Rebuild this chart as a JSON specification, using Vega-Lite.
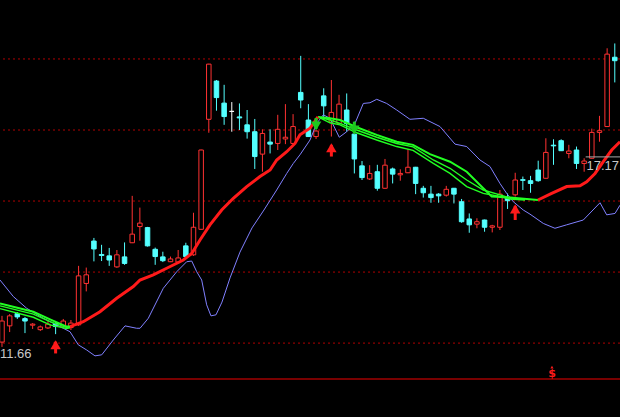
{
"$schema": "https://vega.github.io/schema/vega-lite/v6.json",
"width": 620, "height": 417,
"autosize": "none",
"padding": 0,
"background": "#000000",
"config": {"view": {"stroke": null}, "scale": {"continuousPadding": 0}},
"datasets": {
"candles": [
{"i":0,"o":11.80,"h":12.56,"l":11.66,"c":12.41},
{"i":1,"o":12.27,"h":12.61,"l":12.09,"c":12.56},
{"i":2,"o":12.63,"h":12.67,"l":12.47,"c":12.53},
{"i":3,"o":12.48,"h":12.53,"l":12.06,"c":12.41},
{"i":4,"o":12.29,"h":12.35,"l":12.18,"c":12.32},
{"i":5,"o":12.16,"h":12.28,"l":12.12,"c":12.24},
{"i":6,"o":12.21,"h":12.41,"l":12.18,"c":12.32},
{"i":7,"o":12.34,"h":12.38,"l":12.03,"c":12.25},
{"i":8,"o":12.24,"h":12.47,"l":12.21,"c":12.41},
{"i":9,"o":12.22,"h":12.44,"l":12.15,"c":12.35},
{"i":10,"o":12.30,"h":14.01,"l":12.27,"c":13.72},
{"i":11,"o":13.50,"h":13.96,"l":13.27,"c":13.75},
{"i":12,"o":14.73,"h":14.82,"l":14.14,"c":14.50},
{"i":13,"o":14.34,"h":14.62,"l":14.15,"c":14.31},
{"i":14,"o":14.30,"h":14.53,"l":14.01,"c":14.18},
{"i":15,"o":13.98,"h":14.47,"l":13.95,"c":14.33},
{"i":16,"o":14.27,"h":14.69,"l":14.04,"c":14.08},
{"i":17,"o":14.68,"h":16.04,"l":14.67,"c":14.93},
{"i":18,"o":15.15,"h":15.70,"l":14.74,"c":15.25},
{"i":19,"o":15.12,"h":15.14,"l":14.57,"c":14.59},
{"i":20,"o":14.49,"h":14.54,"l":14.04,"c":14.28},
{"i":21,"o":14.27,"h":14.42,"l":14.12,"c":14.16},
{"i":22,"o":14.13,"h":14.28,"l":14.12,"c":14.21},
{"i":23,"o":14.12,"h":14.47,"l":14.09,"c":14.24},
{"i":24,"o":14.59,"h":14.68,"l":14.25,"c":14.28},
{"i":25,"o":14.33,"h":15.55,"l":14.30,"c":15.13},
{"i":26,"o":15.07,"h":17.38,"l":15.06,"c":17.37},
{"i":27,"o":18.26,"h":19.87,"l":17.87,"c":19.86},
{"i":28,"o":19.37,"h":19.40,"l":18.51,"c":18.89},
{"i":29,"o":18.73,"h":19.26,"l":18.10,"c":18.34},
{"i":30,"o":18.49,"h":18.76,"l":17.90,"c":18.49},
{"i":31,"o":18.33,"h":18.72,"l":17.95,"c":18.30},
{"i":32,"o":18.10,"h":18.53,"l":17.70,"c":17.90},
{"i":33,"o":17.90,"h":18.27,"l":16.82,"c":17.18},
{"i":34,"o":17.25,"h":17.97,"l":16.74,"c":17.85},
{"i":35,"o":17.60,"h":17.97,"l":17.27,"c":17.54},
{"i":36,"o":17.56,"h":18.39,"l":17.37,"c":17.97},
{"i":37,"o":17.69,"h":18.70,"l":17.54,"c":17.74},
{"i":38,"o":17.56,"h":18.41,"l":17.54,"c":18.05},
{"i":39,"o":19.04,"h":20.10,"l":18.58,"c":18.82},
{"i":40,"o":18.24,"h":18.70,"l":17.75,"c":17.76},
{"i":41,"o":17.76,"h":17.95,"l":17.69,"c":17.92},
{"i":42,"o":18.94,"h":19.16,"l":18.24,"c":18.65},
{"i":43,"o":18.18,"h":19.40,"l":17.76,"c":18.46},
{"i":44,"o":18.14,"h":18.97,"l":18.12,"c":18.70},
{"i":45,"o":18.53,"h":19.01,"l":17.90,"c":18.14},
{"i":46,"o":17.83,"h":18.19,"l":16.69,"c":17.11},
{"i":47,"o":16.91,"h":17.05,"l":16.50,"c":16.57},
{"i":48,"o":16.53,"h":16.93,"l":16.50,"c":16.69},
{"i":49,"o":16.74,"h":16.94,"l":16.19,"c":16.26},
{"i":50,"o":16.26,"h":17.11,"l":16.24,"c":16.93},
{"i":51,"o":16.82,"h":16.86,"l":16.40,"c":16.67},
{"i":52,"o":16.65,"h":16.81,"l":16.48,"c":16.69},
{"i":53,"o":16.71,"h":17.40,"l":16.70,"c":16.87},
{"i":54,"o":16.87,"h":16.88,"l":16.09,"c":16.40},
{"i":55,"o":16.26,"h":16.33,"l":15.99,"c":16.13},
{"i":56,"o":16.09,"h":16.33,"l":15.84,"c":15.99},
{"i":57,"o":16.09,"h":16.12,"l":15.84,"c":16.04},
{"i":58,"o":16.06,"h":16.33,"l":16.02,"c":16.23},
{"i":59,"o":16.26,"h":16.27,"l":15.82,"c":16.09},
{"i":60,"o":15.87,"h":15.95,"l":15.26,"c":15.29},
{"i":61,"o":15.37,"h":15.53,"l":14.97,"c":15.20},
{"i":62,"o":15.22,"h":15.39,"l":15.10,"c":15.29},
{"i":63,"o":15.34,"h":15.35,"l":15.00,"c":15.13},
{"i":64,"o":15.13,"h":15.20,"l":14.98,"c":15.17},
{"i":65,"o":15.13,"h":16.21,"l":15.05,"c":16.09},
{"i":66,"o":15.97,"h":16.11,"l":15.66,"c":15.90},
{"i":67,"o":16.07,"h":16.71,"l":16.02,"c":16.50},
{"i":68,"o":16.51,"h":16.60,"l":16.21,"c":16.49},
{"i":69,"o":16.48,"h":16.62,"l":16.13,"c":16.40},
{"i":70,"o":16.79,"h":17.06,"l":16.45,"c":16.48},
{"i":71,"o":16.55,"h":17.71,"l":16.54,"c":17.30},
{"i":72,"o":17.51,"h":17.68,"l":16.94,"c":17.49},
{"i":73,"o":17.64,"h":17.68,"l":17.34,"c":17.35},
{"i":74,"o":17.27,"h":17.52,"l":17.13,"c":17.34},
{"i":75,"o":17.37,"h":17.47,"l":16.82,"c":16.98},
{"i":76,"o":16.98,"h":17.13,"l":16.74,"c":17.05},
{"i":77,"o":17.13,"h":17.99,"l":17.12,"c":17.88},
{"i":78,"o":17.88,"h":18.36,"l":17.61,"c":17.93},
{"i":79,"o":18.05,"h":20.32,"l":18.04,"c":20.15},
{"i":80,"o":20.06,"h":20.46,"l":19.33,"c":19.96}
],
"boll": [
{"t":-0.26,"p":13.60},{"t":1.48,"p":13.12},{"t":3.22,"p":12.78},{"t":5.39,"p":12.49},{"t":7.57,"p":12.25},
{"t":8.88,"p":12.10},{"t":9.96,"p":11.72},{"t":11.06,"p":11.57},{"t":12.14,"p":11.40},{"t":13.02,"p":11.43},
{"t":14.53,"p":11.86},{"t":16.06,"p":12.27},{"t":17.58,"p":12.20},{"t":18.02,"p":12.20},{"t":19.10,"p":12.49},
{"t":21.06,"p":13.36},{"t":22.81,"p":13.84},{"t":24.11,"p":14.13},{"t":24.77,"p":14.15},{"t":25.42,"p":13.84},
{"t":26.07,"p":13.60},{"t":26.72,"p":12.88},{"t":27.28,"p":12.56},{"t":27.94,"p":12.59},{"t":28.72,"p":12.96},
{"t":29.77,"p":13.66},{"t":31.07,"p":14.41},{"t":32.64,"p":15.11},{"t":34.20,"p":15.63},{"t":35.86,"p":16.21},
{"t":37.17,"p":16.69},{"t":38.03,"p":16.98},{"t":38.90,"p":17.23},{"t":40.21,"p":17.66},{"t":41.08,"p":18.14},
{"t":41.95,"p":18.39},{"t":42.82,"p":18.29},{"t":44.03,"p":17.74},{"t":45.00,"p":17.90},{"t":46.08,"p":18.14},
{"t":47.17,"p":18.72},{"t":48.04,"p":18.74},{"t":48.92,"p":18.84},{"t":50.22,"p":18.72},{"t":51.53,"p":18.53},
{"t":53.26,"p":18.26},{"t":55.00,"p":18.29},{"t":57.18,"p":18.05},{"t":59.14,"p":17.54},{"t":60.67,"p":17.47},
{"t":62.40,"p":17.08},{"t":63.71,"p":16.89},{"t":65.01,"p":16.40},{"t":65.89,"p":16.11},{"t":66.75,"p":15.87},
{"t":68.05,"p":15.63},{"t":68.93,"p":15.51},{"t":70.67,"p":15.24},{"t":72.19,"p":15.10},{"t":73.72,"p":15.20},
{"t":75.89,"p":15.34},{"t":78.07,"p":15.84},{"t":78.94,"p":15.49},{"t":80.03,"p":15.53},{"t":80.68,"p":15.77}
],
"bands": [
{"s":"Lm","t":-0.26,"p":12.85},{"s":"Lm","t":4.09,"p":12.61},{"s":"Lm","t":6.27,"p":12.39},{"s":"Lm","t":8.45,"p":12.22},{"s":"Lm","t":8.88,"p":12.24},
{"s":"Lb","t":-0.26,"p":12.77},{"s":"Lb","t":4.09,"p":12.52},{"s":"Lb","t":6.27,"p":12.30},{"s":"Lb","t":8.45,"p":12.19},{"s":"Lb","t":8.88,"p":12.21},
{"s":"Mm","t":41.25,"p":18.33},{"s":"Mm","t":42.82,"p":18.24},{"s":"Mm","t":44.13,"p":18.14},{"s":"Mm","t":46.31,"p":17.95},{"s":"Mm","t":48.92,"p":17.74},
{"s":"Mm","t":51.53,"p":17.56},{"s":"Mm","t":53.66,"p":17.46},{"s":"Mm","t":56.31,"p":17.08},{"s":"Mm","t":58.49,"p":16.84},{"s":"Mm","t":60.67,"p":16.50},
{"s":"Mm","t":62.83,"p":16.21},{"s":"Mm","t":65.01,"p":16.07},{"s":"Mm","t":66.32,"p":15.98},{"s":"Mm","t":68.28,"p":15.93},
{"s":"Mb","t":41.25,"p":18.33},{"s":"Mb","t":42.82,"p":18.16},{"s":"Mb","t":44.13,"p":18.10},{"s":"Mb","t":46.31,"p":17.87},{"s":"Mb","t":48.92,"p":17.66},
{"s":"Mb","t":51.53,"p":17.47},{"s":"Mb","t":53.66,"p":17.36},{"s":"Mb","t":56.31,"p":16.98},{"s":"Mb","t":58.49,"p":16.69},{"s":"Mb","t":60.67,"p":16.31},
{"s":"Mb","t":62.83,"p":16.11},{"s":"Mb","t":65.01,"p":16.02},{"s":"Mb","t":66.32,"p":15.95},{"s":"Mb","t":68.28,"p":15.92}
],
"ma": [
{"s":"a","trend":"down","t":-0.26,"p":12.92},{"s":"a","trend":"down","t":4.09,"p":12.68},{"s":"a","trend":"down","t":6.27,"p":12.46},{"s":"a","trend":"down","t":8.45,"p":12.25},{"s":"a","trend":"down","t":8.88,"p":12.25},
{"s":"b","trend":"up","t":8.88,"p":12.25},{"s":"b","trend":"up","t":10.61,"p":12.39},{"s":"b","trend":"up","t":12.79,"p":12.68},{"s":"b","trend":"up","t":14.97,"p":13.07},
{"s":"b","trend":"up","t":17.14,"p":13.41},{"s":"b","trend":"up","t":18.02,"p":13.60},{"s":"b","trend":"up","t":19.75,"p":13.75},{"s":"b","trend":"up","t":21.50,"p":13.94},
{"s":"b","trend":"up","t":23.67,"p":14.18},{"s":"b","trend":"up","t":24.77,"p":14.37},{"s":"b","trend":"up","t":25.85,"p":14.76},{"s":"b","trend":"up","t":27.15,"p":15.20},
{"s":"b","trend":"up","t":28.68,"p":15.63},{"s":"b","trend":"up","t":30.20,"p":15.97},{"s":"b","trend":"up","t":31.95,"p":16.31},{"s":"b","trend":"up","t":33.68,"p":16.60},
{"s":"b","trend":"up","t":35.00,"p":16.79},{"s":"b","trend":"up","t":35.86,"p":17.08},{"s":"b","trend":"up","t":37.17,"p":17.32},{"s":"b","trend":"up","t":38.25,"p":17.56},
{"s":"b","trend":"up","t":38.90,"p":17.81},{"s":"b","trend":"up","t":40.21,"p":18.00},{"s":"b","trend":"up","t":41.25,"p":18.33},
{"s":"c","trend":"down","t":41.25,"p":18.33},{"s":"c","trend":"down","t":42.82,"p":18.29},{"s":"c","trend":"down","t":44.13,"p":18.24},{"s":"c","trend":"down","t":46.31,"p":18.03},
{"s":"c","trend":"down","t":48.92,"p":17.81},{"s":"c","trend":"down","t":51.53,"p":17.61},{"s":"c","trend":"down","t":53.66,"p":17.52},{"s":"c","trend":"down","t":55.87,"p":17.25},
{"s":"c","trend":"down","t":58.49,"p":17.03},{"s":"c","trend":"down","t":60.67,"p":16.74},{"s":"c","trend":"down","t":62.83,"p":16.26},{"s":"c","trend":"down","t":63.93,"p":16.02},
{"s":"c","trend":"down","t":66.32,"p":15.99},{"s":"c","trend":"down","t":69.97,"p":15.92},
{"s":"d","trend":"up","t":69.97,"p":15.92},{"s":"d","trend":"up","t":71.76,"p":16.11},{"s":"d","trend":"up","t":73.72,"p":16.31},{"s":"d","trend":"up","t":75.46,"p":16.33},
{"s":"d","trend":"up","t":76.33,"p":16.45},{"s":"d","trend":"up","t":77.42,"p":16.69},{"s":"d","trend":"up","t":78.50,"p":17.03},{"s":"d","trend":"up","t":79.60,"p":17.37},{"s":"d","trend":"up","t":80.68,"p":17.61}
],
"arrows": [
{"i":7,"kind":"buy","tail":11.47,"tip":11.81},
{"i":43,"kind":"buy","tail":17.18,"tip":17.52},
{"i":67,"kind":"buy","tail":15.34,"tip":15.75},
{"i":41,"kind":"sell","tail":18.30,"tip":17.98},
{"i":46,"kind":"sell","tail":18.19,"tip":17.86}
],
"grid": [{"p":20.01},{"p":17.95},{"p":15.89},{"p":13.83},{"p":11.77}]
},
"layer": [
{"data": {"name": "grid"}, "mark": {"type": "rule", "color": "#b00000", "strokeWidth": 1, "strokeDash": [2, 3]},
 "encoding": {"y": {"field": "p", "type": "quantitative", "scale": {"domain": [9.627, 21.72], "nice": false, "zero": false}, "axis": null}}},
{"data": {"values": [{"p": 10.73}]}, "mark": {"type": "rule", "color": "#a00000", "strokeWidth": 1.5},
 "encoding": {"y": {"field": "p", "type": "quantitative", "scale": {"domain": [9.627, 21.72], "nice": false, "zero": false}, "axis": null}}},
{"data": {"name": "candles"}, "mark": {"type": "rule", "strokeWidth": 1},
 "encoding": {
  "x": {"field": "i", "type": "quantitative", "scale": {"domain": [-0.26, 80.68], "nice": false, "zero": false, "padding": 0}, "axis": null},
  "y": {"field": "l", "type": "quantitative", "scale": {"domain": [9.627, 21.72], "nice": false, "zero": false}, "axis": null},
  "y2": {"field": "h"},
  "stroke": {"condition": [{"test": "datum.c > datum.o", "value": "#ff3232"}, {"test": "datum.c < datum.o", "value": "#54ffff"}], "value": "#ffffff"}}},
{"data": {"name": "candles"}, "mark": {"type": "bar", "width": 4.5, "strokeWidth": 1},
 "encoding": {
  "x": {"field": "i", "type": "quantitative", "scale": {"domain": [-0.26, 80.68], "nice": false, "zero": false, "padding": 0}, "axis": null},
  "y": {"field": "o", "type": "quantitative", "scale": {"domain": [9.627, 21.72], "nice": false, "zero": false}, "axis": null},
  "y2": {"field": "c"},
  "fill": {"condition": [{"test": "datum.c > datum.o", "value": "#000000"}, {"test": "datum.c < datum.o", "value": "#54ffff"}], "value": "#ffffff"},
  "stroke": {"condition": [{"test": "datum.c > datum.o", "value": "#ff3232"}, {"test": "datum.c < datum.o", "value": "#54ffff"}], "value": "#ffffff"}}},
{"data": {"name": "boll"}, "mark": {"type": "line", "color": "#8080ff", "strokeWidth": 1},
 "encoding": {
  "x": {"field": "t", "type": "quantitative", "scale": {"domain": [-0.26, 80.68], "nice": false, "zero": false, "padding": 0}, "axis": null},
  "y": {"field": "p", "type": "quantitative", "scale": {"domain": [9.627, 21.72], "nice": false, "zero": false}, "axis": null}}},
{"data": {"name": "bands"}, "mark": {"type": "line", "color": "#22ff22", "strokeWidth": 1.4},
 "encoding": {
  "x": {"field": "t", "type": "quantitative", "scale": {"domain": [-0.26, 80.68], "nice": false, "zero": false, "padding": 0}, "axis": null},
  "y": {"field": "p", "type": "quantitative", "scale": {"domain": [9.627, 21.72], "nice": false, "zero": false}, "axis": null},
  "detail": {"field": "s"}}},
{"data": {"name": "ma"}, "transform": [{"filter": "datum.trend == 'down'"}], "mark": {"type": "line", "color": "#22ff22", "strokeWidth": 2},
 "encoding": {
  "x": {"field": "t", "type": "quantitative", "scale": {"domain": [-0.26, 80.68], "nice": false, "zero": false, "padding": 0}, "axis": null},
  "y": {"field": "p", "type": "quantitative", "scale": {"domain": [9.627, 21.72], "nice": false, "zero": false}, "axis": null},
  "detail": {"field": "s"}}},
{"data": {"name": "ma"}, "transform": [{"filter": "datum.trend == 'up'"}], "mark": {"type": "line", "color": "#ff1a1a", "strokeWidth": 3},
 "encoding": {
  "x": {"field": "t", "type": "quantitative", "scale": {"domain": [-0.26, 80.68], "nice": false, "zero": false, "padding": 0}, "axis": null},
  "y": {"field": "p", "type": "quantitative", "scale": {"domain": [9.627, 21.72], "nice": false, "zero": false}, "axis": null},
  "detail": {"field": "s"}}},
{"data": {"name": "arrows"}, "mark": {"type": "rule", "strokeWidth": 3},
 "encoding": {
  "x": {"field": "i", "type": "quantitative", "scale": {"domain": [-0.26, 80.68], "nice": false, "zero": false, "padding": 0}, "axis": null},
  "y": {"field": "tail", "type": "quantitative", "scale": {"domain": [9.627, 21.72], "nice": false, "zero": false}, "axis": null},
  "y2": {"field": "tip"},
  "stroke": {"condition": {"test": "datum.kind == 'buy'", "value": "#ff1a1a"}, "value": "#1ec81e"}}},
{"data": {"name": "arrows"}, "transform": [{"filter": "datum.kind == 'buy'"}], "mark": {"type": "point", "shape": "triangle-up", "filled": true, "size": 110, "color": "#ff1a1a", "yOffset": 3, "opacity": 1},
 "encoding": {
  "x": {"field": "i", "type": "quantitative", "scale": {"domain": [-0.26, 80.68], "nice": false, "zero": false, "padding": 0}, "axis": null},
  "y": {"field": "tip", "type": "quantitative", "scale": {"domain": [9.627, 21.72], "nice": false, "zero": false}, "axis": null}}},
{"data": {"name": "arrows"}, "transform": [{"filter": "datum.kind == 'sell'"}], "mark": {"type": "point", "shape": "triangle-down", "filled": true, "size": 110, "color": "#1ec81e", "yOffset": -3, "opacity": 1},
 "encoding": {
  "x": {"field": "i", "type": "quantitative", "scale": {"domain": [-0.26, 80.68], "nice": false, "zero": false, "padding": 0}, "axis": null},
  "y": {"field": "tip", "type": "quantitative", "scale": {"domain": [9.627, 21.72], "nice": false, "zero": false}, "axis": null}}},
{"data": {"values": [{"a": 76.2, "b": 80.68, "p": 17.17}]}, "mark": {"type": "rule", "color": "#a8a8a8", "strokeWidth": 1},
 "encoding": {
  "x": {"field": "a", "type": "quantitative", "scale": {"domain": [-0.26, 80.68], "nice": false, "zero": false, "padding": 0}, "axis": null},
  "x2": {"field": "b"},
  "y": {"field": "p", "type": "quantitative", "scale": {"domain": [9.627, 21.72], "nice": false, "zero": false}, "axis": null}}},
{"data": {"values": [{"t": -0.26, "p": 11.66, "label": "11.66"}]}, "mark": {"type": "text", "align": "left", "baseline": "top", "dy": 1, "fontSize": 13, "font": "Liberation Sans", "color": "#c8c8c8"},
 "encoding": {
  "x": {"field": "t", "type": "quantitative", "scale": {"domain": [-0.26, 80.68], "nice": false, "zero": false, "padding": 0}, "axis": null},
  "y": {"field": "p", "type": "quantitative", "scale": {"domain": [9.627, 21.72], "nice": false, "zero": false}, "axis": null},
  "text": {"field": "label"}}},
{"data": {"values": [{"t": 80.55, "p": 17.17, "label": "17.17"}]}, "mark": {"type": "text", "align": "right", "baseline": "top", "dy": 3, "fontSize": 13, "font": "Liberation Sans", "color": "#c8c8c8"},
 "encoding": {
  "x": {"field": "t", "type": "quantitative", "scale": {"domain": [-0.26, 80.68], "nice": false, "zero": false, "padding": 0}, "axis": null},
  "y": {"field": "p", "type": "quantitative", "scale": {"domain": [9.627, 21.72], "nice": false, "zero": false}, "axis": null},
  "text": {"field": "label"}}},
{"data": {"values": [{"t": 71.8, "p": 10.87, "label": "$"}]}, "mark": {"type": "text", "align": "center", "baseline": "middle", "fontSize": 11, "fontWeight": "bold", "font": "DejaVu Sans", "color": "#ff1a1a"},
 "encoding": {
  "x": {"field": "t", "type": "quantitative", "scale": {"domain": [-0.26, 80.68], "nice": false, "zero": false, "padding": 0}, "axis": null},
  "y": {"field": "p", "type": "quantitative", "scale": {"domain": [9.627, 21.72], "nice": false, "zero": false}, "axis": null},
  "text": {"field": "label"}}},
{"data": {"values": [{"t": 71.8, "p": 11.07}]}, "mark": {"type": "point", "shape": "triangle-up", "filled": true, "size": 10, "color": "#ff1a1a", "opacity": 1},
 "encoding": {
  "x": {"field": "t", "type": "quantitative", "scale": {"domain": [-0.26, 80.68], "nice": false, "zero": false, "padding": 0}, "axis": null},
  "y": {"field": "p", "type": "quantitative", "scale": {"domain": [9.627, 21.72], "nice": false, "zero": false}, "axis": null}}}
]
}
